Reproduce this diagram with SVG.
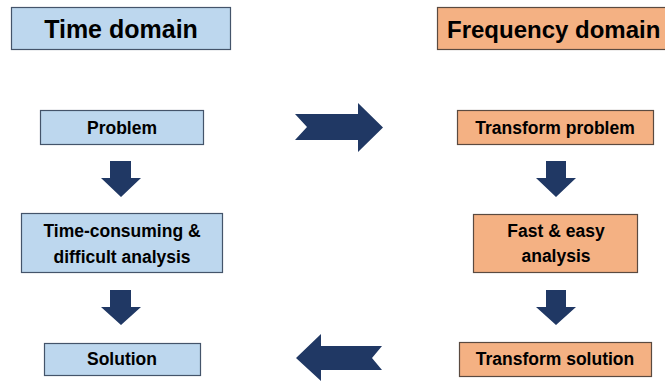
<svg xmlns="http://www.w3.org/2000/svg" width="665" height="381" viewBox="0 0 665 381">
<style>
.blue{fill:#BDD7EE;stroke:#44546A;stroke-width:1.2}
.orange{fill:#F4B183;stroke:#5a4a40;stroke-width:1.2}
.arr{fill:#203864}
text{font-family:"Liberation Sans",Arial,sans-serif;font-weight:bold;fill:#000;text-anchor:middle}
.h{font-size:25px}
.t{font-size:17.5px}
</style>
<rect width="665" height="381" fill="#fff"/>
<g id="time-domain"><rect class="blue" x="11.5" y="7.5" width="219" height="42"/><text class="h" x="121" y="38">Time domain</text></g>
<g id="frequency-domain"><rect class="orange" x="437.5" y="7.5" width="240" height="42"/><text class="h" x="447" y="38" style="text-anchor:start;font-size:24px">Frequency domain</text></g>
<g id="problem"><rect class="blue" x="40.5" y="110.5" width="163" height="34"/><text class="t" x="122" y="134">Problem</text></g>
<g id="transform-problem"><rect class="orange" x="457.5" y="110.5" width="196" height="34"/><text class="t" x="555" y="134">Transform problem</text></g>
<g id="time-consuming"><rect class="blue" x="21.5" y="213.5" width="201" height="59"/><text class="t" x="122" y="237">Time-consuming &amp;</text><text class="t" x="122" y="263">difficult analysis</text></g>
<g id="fast-easy"><rect class="orange" x="473.5" y="214.5" width="164" height="58"/><text class="t" x="556" y="237">Fast &amp; easy</text><text class="t" x="556" y="262">analysis</text></g>
<g id="solution"><rect class="blue" x="44.5" y="343.5" width="156" height="32"/><text class="t" x="122" y="365">Solution</text></g>
<g id="transform-solution"><rect class="orange" x="459.5" y="342.5" width="192" height="34"/><text class="t" x="555" y="365">Transform solution</text></g>
<g id="connectors">
<polygon class="arr" points="110,161 131,161 131,178 141,178 121,197 101,178 110,178"/>
<polygon class="arr" points="110,290 131,290 131,307 141,307 121,325 101,307 110,307"/>
<polygon class="arr" points="546,161 566,161 566,178 576,178 556,197 536,178 546,178"/>
<polygon class="arr" points="546,290 566,290 566,307 576,307 556,325 536,307 546,307"/>
<polygon class="arr" points="295,114 358,114 358,103 383,127.5 358,152 358,140 295,140 307,127"/>
<polygon class="arr" points="382,346 321,346 321,334 296,358 321,381 321,370 382,370 372,358"/>
</g>
</svg>
